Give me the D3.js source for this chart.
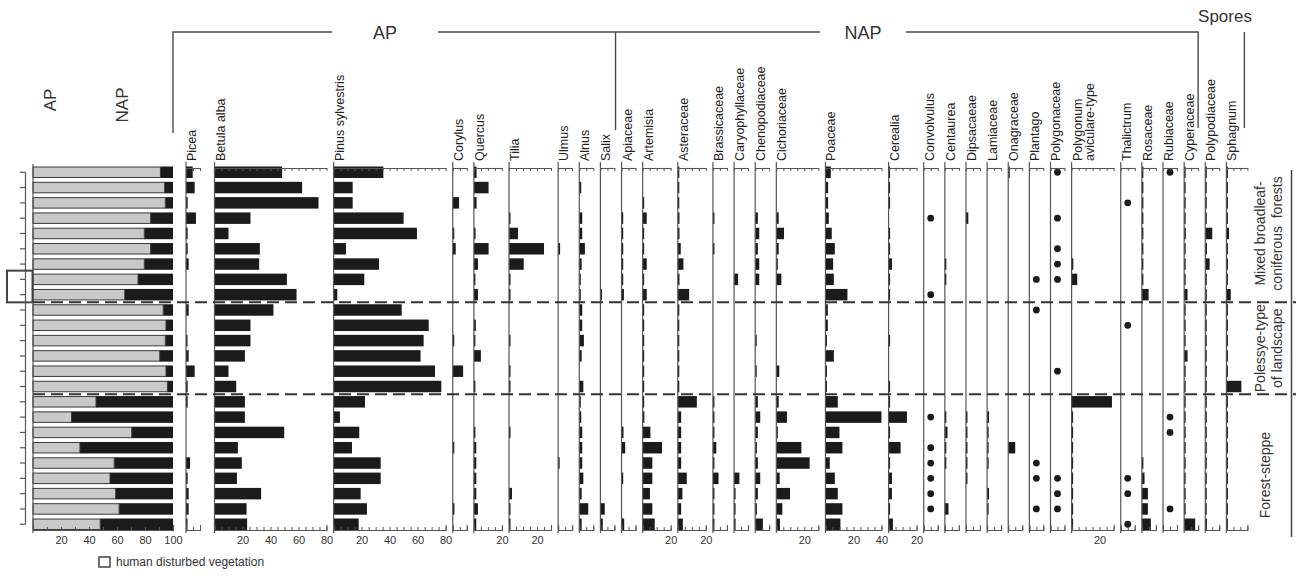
<!DOCTYPE html>
<html>
<head>
<meta charset="utf-8">
<script src="https://cdn.jsdelivr.net/npm/d3@7"></script>
<style>
  body { margin: 0; background: #fff; }
  svg { font-family: "Liberation Sans", Arial, sans-serif; }
</style>
</head>
<body>
<svg id="chart" width="1297" height="579"></svg>
<script>
// 24 samples, top to bottom
const samples = d3.range(24)

// arboreal pollen share (%), the rest up to 100 is NAP
const apShare = [91, 94, 94.5, 84, 79.5, 84, 79.5, 75, 65.5, 93, 95, 94.5, 90.5, 95, 96, 45, 27.5, 70.5, 33.5, 58, 55, 59, 61.5, 48]

const picea = [4.8, 6.2, 1.2, 7.1, 1.2, 1.2, 1.9, 0, 0, 1.9, 0, 0.7, 1.9, 6.2, 1.2, 1.2, 0, 0, 0, 2.9, 1.2, 1.9, 1.9, 0.7]
const betula = [48.3, 62.6, 74.3, 25.7, 10, 32.4, 31.9, 51.7, 58.6, 42.1, 25.7, 25.7, 21.7, 10, 15.5, 21.7, 21.7, 49.8, 16.7, 19.5, 16, 33.3, 22.9, 23.3]
const pinus = [35.5, 13.6, 13.6, 50, 59.5, 8.8, 32.4, 21.9, 2.6, 48.6, 67.9, 64.3, 62.1, 72.4, 76.9, 22.4, 4.5, 18.3, 13.1, 33.6, 33.6, 19.3, 23.8, 17.9]
const corylus = [0, 0, 4.5, 0, 0.8, 2.1, 0, 0, 0, 0, 0, 1, 0, 7.4, 0, 0, 0, 0, 1, 0, 0, 0, 1.2, 0]
const quercus = [1.9, 10.5, 1.9, 0, 1.2, 10.5, 2.9, 0.7, 2.9, 0, 1.4, 0.7, 5, 0, 0.7, 0, 0, 0.7, 1.7, 1.7, 1.7, 1.7, 2.9, 1.7]
const tilia = [0, 0, 0, 1, 6.4, 25, 10.5, 0.7, 0.7, 0, 0, 0.7, 0, 0.7, 0.7, 0, 0, 0.7, 0, 0, 0, 2.1, 0.7, 0.7]
const ulmus = [0, 0, 0, 0, 0, 1.4, 0, 0, 0, 0, 0, 0, 0, 0, 0, 0, 0, 0, 0, 0.7, 0, 0, 0, 0]
const alnus = [0, 1.4, 0, 2.1, 2.1, 4, 1.7, 1, 1, 2.1, 2.1, 3.3, 1.7, 0, 2.9, 1, 1.4, 2.1, 2.1, 2.1, 2.9, 1.7, 6.4, 1.7]
const salix = [0, 0, 0, 0, 0, 0, 0, 0, 0.7, 0, 0, 0, 0, 0, 0, 0, 0, 0, 0, 0, 0, 0, 3.1, 1.7]
const apiaceae = [0, 0, 0, 1.2, 1.2, 1.2, 1.2, 1.2, 1.7, 0, 0, 0, 0, 0, 0, 0, 0, 1.4, 2.6, 0, 1.2, 0, 0, 1.9]
const artemisia = [0, 0, 0.5, 2.9, 0.5, 0.5, 2.9, 0.5, 2.9, 0.5, 0.5, 0.5, 0.5, 0.5, 0.5, 0.5, 1.2, 5.5, 13.8, 6.9, 6.9, 5.2, 6.9, 8.6]
const asteraceae = [0.5, 0.5, 0.5, 1.2, 1.2, 2.1, 4, 1.2, 8.1, 0.5, 0.5, 0.5, 0.5, 0.5, 0.5, 13.6, 2.4, 2.4, 2.4, 2.4, 6.4, 3.3, 2.4, 3.6]
const brassicaceae = [0, 0, 0, 0.7, 0, 0.7, 0, 0, 0, 0, 0, 0, 0, 0, 0, 0.5, 0.7, 0.7, 2.4, 0.7, 4, 0.7, 0.7, 0.7]
const caryophyllaceae = [0, 0, 0, 0, 0, 0, 0, 2.9, 0, 0, 0, 0, 0, 0, 0, 0, 0, 0, 0, 0, 3.8, 0.7, 0.7, 0.7]
const chenopodiaceae = [0, 0, 0, 1.9, 2.9, 1.9, 2.9, 2.9, 0, 0, 0, 0.7, 0, 0.7, 0, 1.9, 3.6, 1.9, 1.2, 1.9, 3.6, 1.9, 1.2, 5.5]
const cichoriaceae = [0, 0, 0, 1.7, 5.5, 1.7, 0.5, 3.6, 0, 0, 0, 0, 0, 2.1, 0, 1.7, 7.6, 0.5, 17.9, 23.8, 2.4, 9.8, 4.3, 2.6]
const poaceae = [3.8, 1.9, 1.9, 2.4, 4.5, 6.7, 5.5, 6, 15.7, 1.7, 1.7, 1, 6, 1, 1, 8.8, 40, 10, 12.1, 3.1, 6.7, 8.8, 12.1, 10.7]
const cerealia = [0.7, 0.7, 0.7, 0, 0.7, 0.7, 2.4, 0.7, 0.7, 0, 0, 0.7, 0, 0, 0.7, 0.7, 13.1, 0.7, 8.6, 0.7, 2.4, 2.4, 0.7, 3.1]
const convolvulus = [0, 0, 0, 1, 0, 0, 0, 0, 1, 0, 0, 0, 0, 0, 0, 0, 1, 0, 1, 1, 1, 1, 1, 0]
const centaurea = [0, 0, 0, 0, 0, 0, 0.7, 0.7, 0, 0, 0, 0, 0, 0, 0, 0, 0.7, 1.9, 0.7, 0.7, 0, 0, 2.6, 0]
const dipsacaeae = [0, 0, 0, 1.7, 0, 0, 0, 0, 0, 0, 0, 0, 0, 0, 0, 0, 0.7, 0.7, 0.7, 0.7, 0.7, 0, 0, 0]
const lamiaceae = [0, 0, 0, 0, 0, 0, 0, 0, 0, 0, 0, 0, 0, 0, 0, 0, 1.4, 0.7, 0.7, 0.7, 0, 1.4, 0.7, 0]
const onagraceae = [0.7, 0, 0, 0, 0, 0, 0, 0, 0, 0, 0, 0, 0, 0, 0, 0, 0, 0, 5, 0, 0, 0, 0, 0]
const plantago = [0, 0, 0, 0, 0, 0, 0, 1, 0, 1, 0, 0, 0, 0, 0, 0, 0, 0, 0, 1, 1, 0, 1, 0]
const polygonaceae = [1, 0, 0, 1, 0, 1, 1, 1, 0, 0, 0, 0, 0, 1, 0, 0, 0, 0, 0, 0, 1, 1, 1, 0]
const polygonum = [0, 0, 0, 0, 0, 0, 1.2, 4, 0, 0, 0, 0, 0, 0, 0, 28.8, 0.5, 1, 0.5, 0.5, 0.5, 0.5, 0.5, 1]
const thalictrum = [0, 0, 1, 0, 0, 0, 0, 0, 0, 0, 1, 0, 0, 0, 0, 0, 0, 0, 0, 0, 1, 1, 0, 1]
const rosaceae = [0.5, 0.5, 0.5, 0.5, 0.5, 0.5, 0.5, 0.5, 4.8, 0, 0, 0, 0, 0, 0, 0, 0, 0, 0, 0.5, 1.9, 4.3, 4.3, 6.4]
const rubiaceae = [1, 0, 0, 0, 0, 0, 0, 0, 0, 0, 0, 0, 0, 0, 0, 0, 1, 1, 0, 0, 0, 0, 1, 0]
const cyperaceae = [0.5, 0.5, 0.5, 0.5, 1.2, 0.5, 0.5, 0.5, 2.4, 0.5, 0.5, 0.5, 2.4, 0.5, 0.5, 0.5, 0.5, 0.5, 0.5, 0.5, 0.5, 0.5, 0.5, 7.9]
const polypodiaceae = [0.5, 0.5, 0.5, 0.5, 5, 1.2, 3.1, 0.5, 0.5, 0.5, 0.5, 0.5, 0.5, 0.5, 0.5, 0.5, 0.5, 0.5, 0.5, 0.5, 0.5, 0.5, 0.5, 1.2]
const sphagnum = [0.5, 0.5, 0.5, 0.5, 1.9, 0.5, 0.5, 0.5, 3.1, 0.5, 0.5, 0.5, 0.5, 0.5, 10.7, 0.5, 0.5, 0.5, 0.5, 0.5, 0.5, 0.5, 0.5, 0.5]

// name, values, axis maximum (%), dots = presence only
const taxa = [
  ['Picea', picea, 10], ['Betula alba', betula, 80], ['Pinus sylvestris', pinus, 80],
  ['Corylus', corylus, 10], ['Quercus', quercus, 20], ['Tilia', tilia, 30],
  ['Ulmus', ulmus, 10], ['Alnus', alnus, 10], ['Salix', salix, 10],
  ['Apiaceae', apiaceae, 10], ['Artemisia', artemisia, 20], ['Asteraceae', asteraceae, 20],
  ['Brassicaceae', brassicaceae, 10], ['Caryophyllaceae', caryophyllaceae, 10], ['Chenopodiaceae', chenopodiaceae, 10],
  ['Cichoriaceae', cichoriaceae, 30], ['Poaceae', poaceae, 40], ['Cerealia', cerealia, 20],
  ['Convolvulus', convolvulus, 10, true], ['Centaurea', centaurea, 10], ['Dipsacaeae', dipsacaeae, 10],
  ['Lamiaceae', lamiaceae, 10], ['Onagraceae', onagraceae, 10], ['Plantago', plantago, 10, true],
  ['Polygonaceae', polygonaceae, 10, true], ['Polygonum|aviculare-type', polygonum, 30],
  ['Thalictrum', thalictrum, 10, true], ['Rosaceae', rosaceae, 10], ['Rubiaceae', rubiaceae, 10, true],
  ['Cyperaceae', cyperaceae, 10], ['Polypodiaceae', polypodiaceae, 10], ['Sphagnum', sphagnum, 15]
].map(([name, values, max, dots]) => ({ name, values, max, dots: !!dots }))

const zoneNames = [['Mixed broadleaf-', 'coniferous  forests'], ['Polessye-type', 'of landscape'], ['Forest-steppe']]
const zoneRows = [[0, 8], [9, 14], [15, 23]]

const svg = d3.select('#chart')
const ink = '#1b1b1b'
const axisInk = '#555'
const pxPerPct = 1.4
const panelGap = 7.13
const yTop = 162
const yBottom = 530

const y = d3.scaleBand()
  .domain(samples)
  .range([164.6, 531.9])
  .paddingInner(0.25)
  .paddingOuter(0.125)
const bw = y.bandwidth()

// panel positions
let cursor = 214.5
taxa.forEach((t, i) => {
  if (i === 0) { t.x0 = 186; return }
  t.x0 = cursor
  cursor += t.max * pxPerPct + panelGap
})

function styleAxis (g) {
  g.select('.domain').attr('stroke', axisInk).attr('stroke-width', 1.1)
  g.selectAll('.tick line').attr('stroke', axisInk)
  g.selectAll('.tick text').attr('font-size', 11).attr('fill', '#333')
  g.attr('font-family', null)
}

const fmt20 = d => (d > 0 && d % 20 === 0 ? d : '')

// AP / NAP summary column
const xAp = d3.scaleLinear().domain([0, 100]).range([33, 33 + 100 * pxPerPct])
const gAp = svg.append('g')
gAp.selectAll('rect.nap').data(apShare).join('rect')
  .attr('x', d => xAp(d)).attr('y', (d, i) => y(i))
  .attr('width', d => xAp(100) - xAp(d)).attr('height', bw)
  .attr('fill', ink)
gAp.selectAll('rect.ap').data(apShare).join('rect')
  .attr('x', xAp(0)).attr('y', (d, i) => y(i) + 0.5)
  .attr('width', d => xAp(d) - xAp(0)).attr('height', bw - 1)
  .attr('fill', '#c9c9c9').attr('stroke', '#3a3a3a').attr('stroke-width', 1)
gAp.append('g')
  .attr('transform', `translate(0,${yBottom})`)
  .call(d3.axisBottom(xAp).tickValues(d3.range(0, 101, 10)).tickSize(-3).tickSizeOuter(-5).tickPadding(6).tickFormat(fmt20))
  .call(styleAxis)
gAp.append('line').attr('x1', xAp(0)).attr('x2', xAp(0)).attr('y1', 164).attr('y2', yBottom + 3)
  .attr('stroke', axisInk).attr('stroke-width', 1.2)
gAp.append('text').text('AP').attr('transform', 'translate(56,100) rotate(-90)')
  .attr('text-anchor', 'middle').attr('font-size', 17).attr('fill', '#333')
gAp.append('text').text('NAP').attr('transform', 'translate(128,105) rotate(-90)')
  .attr('text-anchor', 'middle').attr('font-size', 17).attr('fill', '#333')

// sample ticks on the far left
const depth = svg.append('g').attr('stroke', axisInk).attr('stroke-width', 1.2)
depth.append('line').attr('x1', 25.5).attr('x2', 25.5)
  .attr('y1', y(0) + bw / 2).attr('y2', y(23) + bw / 2)
depth.selectAll('line.t').data(samples).join('line')
  .attr('x1', 20).attr('x2', 25.5)
  .attr('y1', d => y(d) + bw / 2).attr('y2', d => y(d) + bw / 2)

// taxon panels
taxa.forEach(t => {
  const x = d3.scaleLinear().domain([0, t.max]).range([t.x0, t.x0 + t.max * pxPerPct])
  const g = svg.append('g')
  const rowsWith = t.values.map((v, i) => ({ v, i })).filter(d => d.v > 0)

  if (t.dots) {
    g.selectAll('circle').data(rowsWith).join('circle')
      .attr('cx', x(5)).attr('cy', d => y(d.i) + bw / 2).attr('r', 3.4)
      .attr('fill', ink)
  } else {
    g.selectAll('rect').data(rowsWith).join('rect')
      .attr('x', x(0)).attr('y', d => y(d.i))
      .attr('width', d => Math.max(1.5, x(d.v) - x(0))).attr('height', bw)
      .attr('fill', ink)
  }

  g.append('g')
    .attr('transform', 'translate(0,168)')
    .call(d3.axisTop(x).tickValues(d3.range(0, t.max + 0.1, 5)).tickSize(-3).tickSizeOuter(0).tickFormat(''))
    .call(styleAxis)
  g.append('g')
    .attr('transform', `translate(0,${yBottom})`)
    .call(d3.axisBottom(x).tickValues(d3.range(0, t.max + 0.1, 5)).tickSize(-3).tickSizeOuter(-5).tickPadding(6).tickFormat(fmt20))
    .call(styleAxis)
  g.append('line')
    .attr('x1', x(0)).attr('x2', x(0)).attr('y1', yTop).attr('y2', yBottom + 3)
    .attr('stroke', axisInk).attr('stroke-width', 1.2)

  t.name.split('|').forEach((part, j) => {
    g.append('text').text(part)
      .attr('transform', `translate(${x(0) + 10 + j * 12},${yTop - 1}) rotate(-90)`)
      .attr('font-size', 12.5).attr('fill', '#222')
  })
})

// group header brackets
const header = svg.append('g').attr('stroke', '#4a4a4a').attr('stroke-width', 1.4).attr('fill', 'none')
const apLeft = taxa[0].x0 - 13
const apNapSplit = taxa[9].x0 - 6
const napRight = taxa[29].x0 + taxa[29].max * pxPerPct
const sporesLine = taxa[31].x0 + 18
const headerY = 32
header.append('path').attr('d', `M${apLeft},133V${headerY}H332`)
header.append('path').attr('d', `M438,${headerY}H820`)
header.append('path').attr('d', `M906,${headerY}H${napRight}V128`)
header.append('path').attr('d', `M${apNapSplit},${headerY}V130`)
header.append('path').attr('d', `M${sporesLine},${headerY}V128`)
svg.append('text').text('AP').attr('x', 385).attr('y', 39).attr('text-anchor', 'middle')
  .attr('font-size', 18).attr('fill', '#333')
svg.append('text').text('NAP').attr('x', 863).attr('y', 39).attr('text-anchor', 'middle')
  .attr('font-size', 18).attr('fill', '#333')
svg.append('text').text('Spores').attr('x', 1225).attr('y', 22).attr('text-anchor', 'middle')
  .attr('font-size', 17).attr('fill', '#333')

// zone boundaries and labels
const step = y.step()
const boundaries = zoneRows.slice(1).map(([from]) => y(from) - step * 0.125)
svg.selectAll('line.zone').data(boundaries).join('line')
  .attr('x1', 33).attr('x2', 1296).attr('y1', d => d).attr('y2', d => d)
  .attr('stroke', '#333').attr('stroke-width', 2).attr('stroke-dasharray', '12,6')

svg.append('line').attr('x1', 1291.5).attr('x2', 1291.5).attr('y1', 170).attr('y2', 537)
  .attr('stroke', '#444').attr('stroke-width', 1.5)

zoneNames.forEach((lines, zi) => {
  const [a, b] = zoneRows[zi]
  let cy = (y(a) + y(b) + bw) / 2
  if (zi === 2) cy += 12
  lines.forEach((txt, j) => {
    const bx = lines.length === 1 ? 1270 : 1265 + j * 17
    svg.append('text').text(txt)
      .attr('transform', `translate(${bx},${cy}) rotate(-90)`)
      .attr('text-anchor', 'middle').attr('font-size', 14).attr('fill', '#333')
      .attr('xml:space', 'preserve').style('white-space', 'pre')
  })
})

// human-disturbed vegetation marker and legend
svg.append('rect').attr('x', 7).attr('y', y(7) - 3).attr('width', 25.5).attr('height', boundaries[0] - y(7) + 3)
  .attr('fill', 'none').attr('stroke', '#444').attr('stroke-width', 2)
svg.append('rect').attr('x', 99).attr('y', 557).attr('width', 11).attr('height', 10)
  .attr('fill', 'none').attr('stroke', '#444').attr('stroke-width', 1.5)
svg.append('text').text('human disturbed vegetation').attr('x', 116).attr('y', 566)
  .attr('font-size', 12).attr('fill', '#333')
</script>
</body>
</html>
